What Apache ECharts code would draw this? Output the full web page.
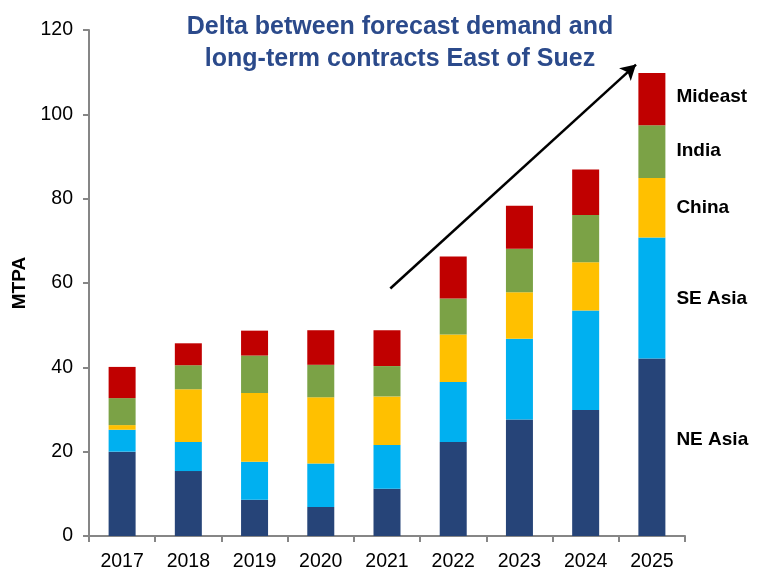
<!DOCTYPE html>
<html><head><meta charset="utf-8">
<script src="https://cdn.jsdelivr.net/npm/echarts@6/dist/echarts.min.js"></script>
<style>html,body{margin:0;padding:0;background:#fff}#c{width:766px;height:572px}</style>
</head><body><div id="c"></div>
<script>
const categories = ['2017','2018','2019','2020','2021','2022','2023','2024','2025'];
const neAsia  = [20.0, 15.4, 8.6, 6.9, 11.2, 22.3, 27.6, 29.9, 42.1];
const seAsia  = [5.2, 6.9, 9.0, 10.3, 10.4, 14.2, 19.2, 23.6, 28.7];
const china   = [1.1, 12.5, 16.3, 15.7, 11.5, 11.3, 11.0, 11.4, 14.1];
const india   = [6.4, 5.7, 8.9, 7.7, 7.2, 8.5, 10.3, 11.2, 12.5];
const mideast = [7.4, 5.2, 5.9, 8.2, 8.5, 10.0, 10.2, 10.8, 12.4];
const seriesNames = ['NE Asia','SE Asia','China','India','Mideast'];
const yTicks = [0, 20, 40, 60, 80, 100, 120];
const arrowStart = [4.05, 58.7];
const arrowEnd = [7.76, 111.8];

const colors = ['#264478','#00B0F0','#FFC000','#7BA246','#C00000'];
const values = [neAsia, seAsia, china, india, mideast];
const font = 'Liberation Sans, Arial, sans-serif';
const labelOffsets = [[0, -7], [0, 1], [0, 0], [0, -1], [0, -2]];

const chart = echarts.init(document.getElementById('c'));
const series = values.map((vals, i) => ({
  name: seriesNames[i],
  type: 'bar',
  stack: 'total',
  barWidth: 27,
  itemStyle: { color: colors[i] },
  data: vals.map((v, j) => j === vals.length - 1 ? {
    value: v,
    label: {
      show: true, position: 'right', distance: 11,
      formatter: seriesNames[i],
      color: '#000', fontWeight: 'bold', fontSize: 19, fontFamily: font,
      offset: labelOffsets[i]
    }
  } : v)
}));
series.push({
  type: 'line',
  xAxisIndex: 1,
  data: [],
  silent: true,
  markLine: {
    silent: true,
    symbol: ['none', 'arrow'],
    symbolSize: [13, 15],
    label: { show: false },
    lineStyle: { color: '#000', width: 2.5, type: 'solid' },
    data: [[{ coord: arrowStart }, { coord: arrowEnd }]]
  }
});

chart.setOption({
  animation: false,
  title: {
    text: 'Delta between forecast demand and\nlong-term contracts East of Suez',
    left: 395, top: 6, textAlign: 'center',
    textStyle: { color: '#2B4A8B', fontSize: 25, fontWeight: 'bold', fontFamily: font, lineHeight: 32 }
  },
  grid: { left: 89, right: 81, top: 30, bottom: 34, containLabel: false },
  xAxis: [{
    type: 'category',
    data: categories,
    axisLine: { lineStyle: { color: '#868686', width: 2 } },
    axisTick: { show: true, length: 6, lineStyle: { color: '#868686', width: 2 } },
    axisLabel: { color: '#000', fontSize: 19.5, fontFamily: font, margin: 16 }
  }, {
    type: 'value', min: -0.5, max: 8.5, show: false
  }],
  yAxis: {
    type: 'value', min: 0, max: 120, interval: 20,
    name: 'MTPA', nameLocation: 'middle', nameGap: 57,
    nameTextStyle: { color: '#000', fontWeight: 'bold', fontSize: 19, fontFamily: font },
    axisLine: { show: true, onZero: false, lineStyle: { color: '#868686', width: 2 } },
    axisTick: { show: true, length: 6, lineStyle: { color: '#868686', width: 2 } },
    splitLine: { show: false },
    axisLabel: { color: '#000', fontSize: 19.5, fontFamily: font, margin: 16,
      formatter: v => yTicks.includes(v) ? String(v) : '' }
  },
  series: series
});
</script>
</body></html>
